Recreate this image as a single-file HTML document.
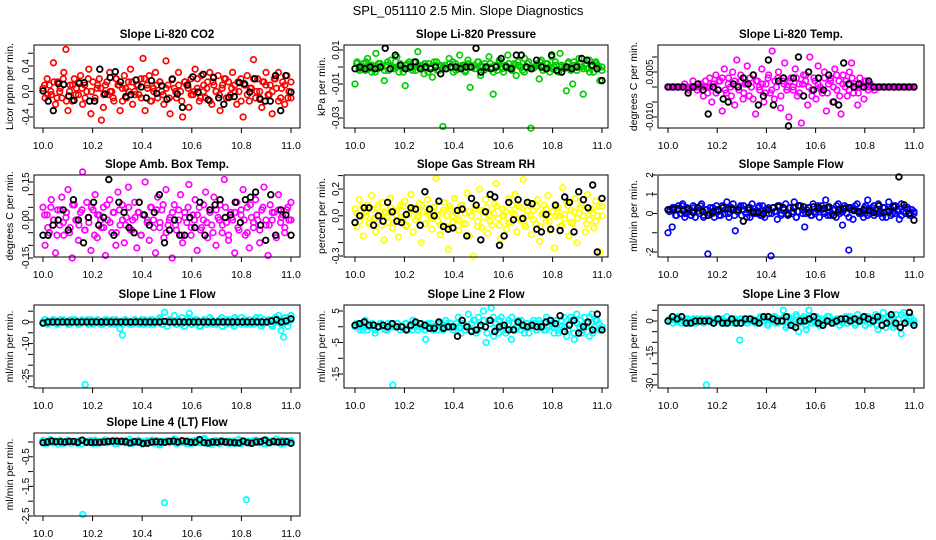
<!DOCTYPE html>
<html><head><meta charset="utf-8"><style>
html,body{margin:0;padding:0;background:#fff;}
svg{display:block;font-family:"Liberation Sans",sans-serif;}
</style></head><body>
<svg id="chart" width="936" height="540" viewBox="0 0 936 540" xmlns="http://www.w3.org/2000/svg">
<text x="468" y="15" text-anchor="middle" font-size="13">SPL_051110  2.5 Min. Slope Diagnostics</text>
</svg>
<script>
const xTicks = [10.0,10.2,10.4,10.6,10.8,11.0];
const xTickLabels = ["10.0","10.2","10.4","10.6","10.8","11.0"];

const co2Red = [0.05,-0.1,0.2,0.1,-0.05,0.45,-0.2,0.15,0.0,-0.1,0.3,0.66,-0.3,0.1,-0.15,0.2,0.05,-0.05,0.25,-0.2,0.1,0.0,0.35,-0.35,0.15,-0.1,0.05,0.2,-0.45,-0.25,0.1,-0.05,0.3,0.0,-0.15,0.2,0.1,-0.3,0.05,0.25,-0.1,0.15,0.35,-0.2,0.0,0.1,-0.05,0.2,0.52,-0.3,0.1,0.25,-0.15,0.05,0.3,-0.1,0.15,0.0,-0.2,0.48,0.1,-0.35,0.2,0.05,-0.1,0.3,0.0,-0.4,0.15,0.1,-0.25,0.2,-0.05,0.35,0.05,-0.15,0.25,0.0,-0.1,0.15,0.3,-0.2,0.1,0.0,0.25,-0.3,0.05,0.2,-0.1,0.15,-0.05,0.3,0.1,-0.2,0.0,0.2,-0.4,0.1,0.25,-0.15,0.05,0.5,-0.1,0.2,0.0,-0.25,0.15,0.3,-0.05,0.1,-0.35,0.2,0.05,0.3,-0.1,0.15,-0.2,0.25,0.0,-0.1];
const co2RedCore = [0.1,-0.05,0.0,0.15,-0.1,0.05,0.2,-0.15,0.0,0.1,-0.05,0.15,0.05,-0.1,0.2,0.0,-0.15,0.1,0.05,-0.05,0.15,0.0,-0.1,0.2,0.1,-0.15,0.05,0.0,0.15,-0.05,0.1,-0.1,0.2,0.05,-0.15,0.0,0.1,0.15,-0.05,0.05,-0.1,0.2,0.0,0.1,-0.15,0.15,0.05,-0.05,0.0,0.2,-0.1,0.1,0.05,-0.15,0.15,0.0,-0.05,0.1,0.2,-0.1,0.05,0.0,0.15,-0.15,0.1,-0.05,0.05,0.2,0.0,-0.1,0.15,0.1,-0.05,0.0,0.2,-0.15,0.05,0.1,-0.1,0.15];
const co2Black = [0.01,-0.15,-0.3,0.12,0.11,-0.07,-0.14,0.13,0.14,-0.15,-0.15,0.35,-0.04,0.22,0.31,0.15,-0.08,-0.05,0.18,0.07,-0.1,0.17,-0.03,0.09,-0.12,0.19,-0.04,-0.25,0.1,0.23,-0.01,0.27,-0.13,0.22,-0.1,-0.2,-0.09,-0.08,0.14,0.12,-0.01,0.2,-0.12,-0.15,-0.15,0.25,-0.3,0.25,-0.01];

const pressureGreen = [-0.010,0.003,-0.001,0,0.002,-0.002,0.005,0.001,-0.003,0,0.008,-0.001,0.002,0,-0.008,0.001,-0.002,0.004,0,-0.001,0.006,-0.003,0.001,0,-0.011,0.002,-0.001,0,0.003,-0.002,0.009,0,0.001,-0.004,-0.001,0.002,0,-0.006,0.001,0.003,-0.002,0,-0.035,0.001,-0.001,0.005,0,-0.003,0.002,-0.001,0.007,0,0.001,-0.002,0.004,-0.012,0,0.001,-0.001,0.003,-0.005,0,0.002,-0.001,0.006,0,-0.016,0.001,-0.002,0.004,0,-0.003,0.001,0.007,-0.001,0,0.002,-0.005,0.001,0,-0.002,0.005,0,0.003,-0.036,-0.001,0,0.002,-0.007,0.004,0,-0.001,0.002,-0.003,0.006,0,0.001,-0.002,0.008,0,-0.001,-0.014,0.003,0,-0.010,0.001,-0.002,0.005,0,-0.016,0.002,-0.001,0.004,0,-0.003,0.002,0.001,-0.008,0];
const pressureGreenCore = [0.002,-0.002,0,0.003,-0.001,0.001,-0.003,0.002,0,-0.002,0.003,0.001,-0.001,0,0.002,-0.003,0.001,0.003,-0.002,0,0.001,-0.001,0.002,-0.003,0,0.003,-0.002,0.001,0,-0.001,0.002,0.003,-0.002,0,0.001,-0.003,0.002,0,-0.001,0.003,0.001,-0.002,0,0.002,-0.003,0.001,0.003,-0.001,0,0.002,-0.002,0.001,0.003,0,-0.003,0.002,-0.001,0,0.001,0.003,-0.002,0.002,0,-0.001,0.003,-0.003,0.001,0,0.002,-0.002,0.003,0.001,0,-0.001,0.002,-0.003,0.001,0.003,0,-0.002];
const pressureBlack = [-0.001,0.0,-0.001,0.0,-0.001,0.0,0.011,-0.001,0.007,0.001,-0.001,0.0,0.003,-0.001,0.0,-0.001,0.0,-0.004,-0.001,0.0,0.0,-0.001,0.0,0.0,0.011,-0.003,0.0,-0.001,0.0,0.005,0.0,-0.001,0.007,0.007,0.0,-0.001,0.004,0.0,-0.001,0.007,-0.002,-0.003,0.0,-0.001,0.0,0.005,0.004,0.001,-0.001,-0.008];

const tempMagenta = [0,0,0,0,0,0,0,0,0.001,0,-0.001,0,0.002,0,-0.001,0,0.001,-0.003,0.002,-0.002,0.003,-0.005,0.001,0.004,-0.001,0.002,-0.008,0.006,-0.002,0.003,0,0.005,-0.006,0.009,-0.001,0.002,-0.004,0.001,0.007,-0.003,0,0.004,-0.009,0.002,-0.001,0.006,-0.005,0.001,0.003,-0.002,0.012,-0.004,0,0.005,-0.007,0.002,0.008,-0.001,-0.010,0.003,0,0.006,-0.003,0.001,-0.012,0.004,0.002,-0.006,0.010,-0.001,0.003,-0.004,0.007,0,-0.002,0.005,-0.008,0.001,0.003,-0.005,0.006,-0.001,0.002,-0.009,0.004,0,-0.003,0.005,0.008,-0.002,0.001,-0.006,0.003,0,-0.004,0.002,-0.001,0.001,0,-0.001,0,0,0,0,0,0,0,0,0,0,0,0,0,0,0,0,0,0,0];
const tempMagentaCore = [0,0,0,0,0,0,0,0,0,0,0,0,0,0,0.001,-0.002,0.002,0.003,-0.001,0.001,-0.003,0.002,0,0.004,-0.002,0.001,0.003,-0.004,0.002,0,0.001,-0.002,0.004,-0.001,0.002,0.003,-0.003,0.001,0,0.002,-0.001,0.003,-0.002,0.001,0.004,0,-0.003,0.002,0.001,-0.001,0.003,-0.002,0.002,0,0.004,-0.003,0.001,0.002,-0.001,0.003,0,-0.002,0.001,0.002,0,0,0,0,0,0,0,0,0,0,0,0,0,0,0,0];
const tempBlack = [0,0,0,0,-0.002,0,0.001,-0.001,-0.009,0,-0.001,-0.004,-0.005,0.001,0,0.003,0.001,0.004,-0.006,-0.003,0.009,-0.006,0.002,0.003,-0.013,0.003,0.010,-0.003,0.005,-0.001,0.003,-0.001,0.004,-0.005,-0.006,0.008,0.001,0,0.001,0,0.002,0,0,0,0,0,0,0,0,0];

const ambMagenta = [0.05,-0.10,0.02,-0.05,0.08,0,-0.13,0.04,-0.02,0.09,-0.06,0.01,0.12,-0.03,-0.15,0.06,0,-0.08,0.03,0.19,-0.04,0.07,-0.01,-0.12,0.04,0.10,-0.07,0.02,-0.03,0.05,-0.14,0,0.08,-0.05,0.03,-0.10,0.11,-0.02,0.06,-0.09,0.01,0.13,-0.04,0,0.07,-0.11,0.03,-0.06,0.02,0.15,-0.01,-0.08,0.05,0,-0.13,0.09,-0.03,0.04,-0.07,0.12,-0.02,0.01,-0.15,0.06,-0.04,0,0.10,-0.09,0.03,-0.01,0.14,-0.06,0.02,0.08,-0.12,0.05,-0.03,0,0.11,-0.07,0.04,-0.02,0.09,-0.10,0.01,0.06,-0.05,0.16,-0.01,-0.08,0.03,0,-0.13,0.07,-0.04,0.02,0.12,-0.06,0.05,-0.11,0.01,-0.03,0.08,0,-0.09,0.04,0.13,-0.02,-0.14,0.06,0,0.03,-0.07,0.10,-0.01,0.02,-0.05,0.04,0,0.07];
const ambMagentaCore = [0.02,-0.03,0.05,0,-0.06,0.04,-0.01,0.03,-0.05,0.06,0,-0.02,0.04,-0.04,0.01,0.05,-0.06,0.02,0,-0.03,0.06,-0.01,0.03,-0.05,0.04,0,-0.02,0.05,-0.04,0.01,0.03,-0.06,0.02,0,0.05,-0.03,0.04,-0.01,0.06,-0.05,0,0.03,-0.02,0.04,-0.06,0.01,0.05,-0.03,0,0.02,-0.04,0.06,-0.01,0.03,-0.05,0.04,0,-0.02,0.05,-0.06,0.01,0.03,-0.03,0.04,0,-0.05,0.06,-0.01,0.02,-0.04,0.05,0,-0.02,0.03,-0.06,0.04,0.01,-0.03,0.05,0];
const ambBlack = [-0.06,-0.06,-0.02,0.0,0.04,-0.04,0.08,0.0,-0.09,0.01,0.07,-0.02,0.01,0.16,-0.06,0.07,0.03,-0.03,-0.05,0.07,0.02,-0.02,0.03,0.10,-0.09,-0.04,0.0,-0.06,-0.06,0.01,-0.03,0.07,-0.06,0.04,0.06,0.08,0.01,0.02,0.07,-0.01,0.08,0.09,0.11,-0.02,-0.08,0.10,-0.06,0.04,0.02,-0.06];

const rhYellow = [0.05,-0.08,0.12,0,-0.15,0.03,0.08,-0.05,0.15,-0.02,-0.12,0.06,0,0.10,-0.18,0.02,-0.05,0.13,-0.09,0.04,0,-0.16,0.08,-0.03,0.11,-0.07,0.01,0.16,-0.12,0.05,-0.01,0.09,-0.20,0.03,-0.06,0.12,0,-0.10,0.07,0.28,-0.04,-0.14,0.02,0.10,-0.08,-0.25,0.05,0,0.13,-0.03,-0.11,0.08,-0.06,0.02,0.17,-0.15,0,-0.30,0.06,-0.04,0.20,-0.09,0.03,0.12,-0.13,0.01,-0.07,0.09,0.24,-0.02,-0.17,0.05,0,-0.10,0.13,-0.05,0.02,0.16,-0.12,0.07,-0.03,0.27,-0.08,0,0.10,-0.14,0.04,-0.06,0.12,-0.19,0.01,0.08,-0.04,0.15,-0.11,0.03,-0.24,0.06,0,-0.08,0.21,-0.02,0.10,-0.15,0.04,-0.06,0.13,-0.20,0.02,0.08,0,-0.12,0.16,-0.03,0.05,-0.09,0.11,0,-0.27,0.07];
const rhYellowCore = [0.02,-0.04,0.07,0,-0.06,0.05,-0.02,0.08,-0.07,0.03,0,0.06,-0.05,0.04,-0.01,0.07,-0.08,0.02,0.05,-0.03,0,0.08,-0.06,0.03,-0.02,0.06,0.01,-0.07,0.04,0,0.07,-0.05,0.02,-0.03,0.08,-0.06,0.03,0,0.05,-0.08,0.04,-0.01,0.06,-0.04,0.02,0.07,-0.07,0,0.03,-0.05,0.08,0.01,-0.02,0.06,-0.06,0.04,0,-0.03,0.07,-0.08,0.02,0.05,-0.04,0.03,0,0.06,-0.07,0.01,0.08,-0.05,0.03,-0.02,0.06,0,-0.06,0.04,0.02,-0.04,0.07,0];
const rhBlack = [-0.05,0.0,0.06,0.06,-0.07,0.0,-0.04,0.10,0.03,-0.04,-0.05,0.01,0.06,0.05,-0.07,0.18,0.05,0.0,0.11,-0.08,-0.10,-0.09,0.04,0.05,-0.15,0.13,0.08,-0.18,0.03,0.16,0.14,-0.22,-0.15,0.10,-0.03,0.12,-0.02,0.10,0.09,-0.10,-0.12,0.01,-0.10,0.08,-0.11,0.14,0.10,-0.12,0.18,0.12,0.06,0.23,-0.27,0.13];

const sampleBlue = [-1.0,0.2,-0.7,0.3,-0.1,0.4,0,0.5,-0.2,0.3,0.1,-0.1,0.4,-0.2,0.3,0,0.5,-0.1,0.2,-2.1,0.3,0,-0.2,0.4,0.1,-0.1,0.3,0,0.6,-0.2,0.2,0.5,-0.9,0.1,0.3,-0.1,0.4,0,0.2,-0.2,0.5,0.1,0,0.3,-0.1,0.4,-0.2,0.2,0,-2.2,0.3,0.1,-0.3,0.4,0,0.2,0.5,-0.1,0.3,0,0.6,-0.2,0.1,0.4,0,-0.7,0.2,0.3,-0.1,0.5,0,0.2,-0.2,0.4,0.1,0.7,-0.1,0.3,0,0.2,-0.2,0.5,0.1,-0.6,0.4,0,-1.9,0.3,-0.3,0.2,0.5,0,0.1,-0.2,0.4,0.7,0,0.3,-0.1,0.2,0.5,0,-0.2,0.3,0.1,0.6,-0.1,0.4,0,0.2,-0.3,0.5,0.1,0,0.3,-0.1,0.2,0];
const sampleBlueCore = [0.1,0.3,-0.1,0.2,0.4,0,0.2,-0.1,0.3,0.1,0.4,-0.2,0.2,0,0.3,0.1,-0.1,0.4,0.2,0,0.3,-0.1,0.1,0.4,0.2,-0.2,0.3,0,0.1,0.4,-0.1,0.2,0.3,0,0.1,0.4,-0.1,0.2,0,0.3,0.1,-0.2,0.4,0.2,0,0.3,-0.1,0.1,0.4,0.2,0,0.3,-0.1,0.2,0.4,0,0.1,0.3,-0.2,0.2,0.4,0.1,0,0.3,-0.1,0.2,0.4,0,0.1,0.3,-0.2,0.2,0,0.4,0.1,-0.1,0.3,0.2,0,0.1];
const sampleBlack = [0.2,0.2,0.25,0.15,0.25,0.05,0.3,0.1,-0.1,0.1,0.2,0.3,0.25,0.2,0.2,-0.4,0.3,0.05,0.05,0.0,0.2,0.3,0.35,0.3,-0.05,0.3,0.4,0.35,0.05,0.35,0.3,0.25,0.35,-0.1,0.2,0.25,0.3,0.15,0.1,0.2,0.15,0.05,0.4,0.05,0.1,0.35,1.9,0.45,0.0,-0.35];

const line1Cyan = [0,1,-1,0,1,0,-1,1,0,0,-1,1,0,1,-1,0,0,-29,1,0,-1,0,1,0,-1,1,0,0,1,-1,0,-3,-6,1,0,-1,0,1,0,-1,0,1,0,-1,1,0,0,2,-1,4.5,-2,1,0,3,-1,0,2,-2,1,4,-1,0,1,-2,0,1,-1,0,1,0,-1,0,2,0,-1,1,0,-2,1,0,2,0,-1,1,0,-1,2,0,-2,1,0,1,-1,0,2,3,-4,-7,2,0,3];
const line1CyanCore = [1,-1,0,1,-1,0,1,0,-1,1,0,-1,1,0,-1,1,0,1,-1,0,1,-1,0,1,0,-1,1,0,-1,1,0,1,-1,0,1,-1,0,1,-1,0,1,0,-1,1,-1,0,2,-1,1,0,-2,1,0,2,-1,0,1,-2,1,0,-1,2,0,-1,1,0,-1,1,0,2,-1,0,1,-2,2,0,-1,2,-2,1];
const line1Black = [-0.5,0,0,0,0,0,0,0,0,0,0,0,0,0,0,0,0,0,0,0,0,0,0,0,0,0.3,0,0,0,0,0,0,0,0,0,0,0,0,0,0,0,0,0,0,0,0,0,0.5,1,0,0.5,1.5];

const line2Cyan = [0,1,-1,0,2,-1,0,1,-2,0,1,0,-1,1,0,-18.5,0,1,-1,0,1,-1,0,2,0,-1,1,0,-4,1,0,-1,0,1,0,-1,2,0,1,-1,0,3,-2,1,0,4,-1,2,-2,3,0,5,-5,2,6,-3,1,-2,3,0,-1,2,-4,1,0,2,-1,0,1,-2,0,1,-1,2,0,-1,3,0,1,-2,2,-1,0,3,-3,1,2,-4,4,0,-2,3,1,-3,4,0,2,-1,0];
const line2CyanCore = [1,0,-1,1,0,1,-1,0,1,0,-1,1,0,1,-1,0,1,0,-1,1,0,1,-1,0,1,0,-1,1,0,1,0,-1,1,0,1,-1,0,1,2,-1,0,2,-2,1,3,-1,2,0,-2,1,3,-1,0,2,-2,1,0,2,-1,1,0,-1,2,0,1,-2,2,0,-1,3,-2,1,2,-1,0,3,-2,2,1,-1];
const line2Black = [0.5,1,1.5,0.5,0.5,0,0.5,0,1,0,0,-1,0.5,1.5,1,0.5,-0.5,-0.5,1.5,-0.5,0,0,-3,2,0,-1.5,-1,0.5,0,2,-1.5,0,0.5,-1,-1,1.5,0.5,0,0.5,0,0,1.5,2,1,3.5,-1.5,0.5,2,-2,0,1.5,-1,4,-1];

const line3Cyan = [0,1,-1,0,2,-1,0,1,-1,0,1,-1,0,1,0,-30,1,0,-1,0,1,-1,0,2,0,-1,1,0,-9,1,0,-1,0,1,-1,0,2,0,1,-2,0,2,-1,1,0,5,-3,2,0,-2,3,-5,1,2,-4,5,-1,0,2,-2,1,-1,0,2,-1,0,1,-2,0,1,-1,2,0,-1,3,0,1,-2,2,-1,0,3,-4,1,4,-3,2,0,-3,3,1,-6,4,0,2,-1,0];
const line3CyanCore = [1,-1,0,1,-1,0,1,0,-1,1,0,-1,1,0,-1,1,0,1,-1,0,1,-1,0,1,0,-1,1,0,-1,1,0,1,-1,0,2,-1,0,2,-2,1,0,2,-1,1,-2,0,2,-1,1,0,-1,2,0,-1,1,0,-1,2,0,1,-2,1,0,2,-1,1,0,-2,2,1,-1,0,2,-2,1,3,-1,0,2,-1];
const line3Black = [0,2,1,2,-1,-1,0,0,0,0,-1,1,-1,-1,1,-1,-1,1,1,0,-1,2,2,1,0,0,2,-2,-3,0,0,1,2,-1,-2,0,-1,0,1,1,0,1,0,2,1,0,2,-2,-1,3,-1,-3,-1,4,-2];

const line4Cyan = [0.05,-0.05,0,0.08,-0.03,0.02,-0.07,0.04,0,-0.02,0.06,-0.04,0.01,0,-0.05,0.03,-2.45,0.02,-0.01,0.05,-0.06,0,0.03,-0.03,0.01,0.07,-0.02,0,0.04,-0.06,0.02,-0.01,0.05,-0.03,0,0.08,-0.05,0.02,-0.01,0.04,-0.07,0,0.03,-0.02,0.06,-0.04,0.01,-0.10,0.02,-2.05,0.05,-0.02,0,0.10,-0.05,0.03,-0.01,0.04,-0.06,0,0.02,-0.03,0.07,-0.01,0,0.12,-0.05,0.02,-0.08,0.04,0,-0.03,0.06,-0.01,0.02,-0.05,0,0.04,-0.02,0.08,-0.06,0.01,-1.95,0.03,-0.04,0,0.06,-0.02,0.01,-0.05,0.07,0,-0.03,0.02,0.10,-0.01,-0.07,0.04,0,-0.02,0.05];
const line4CyanCore = [0.03,-0.04,0.05,-0.02,0.01,0.06,-0.05,0,0.04,-0.03,0.02,0.05,-0.06,0.01,0.03,-0.02,0.06,-0.04,0,0.05,-0.03,0.02,0.04,-0.06,0.01,0,0.05,-0.04,0.03,-0.02,0.06,-0.05,0.01,0.04,0,-0.03,0.05,-0.06,0.02,0.03,-0.01,0.06,-0.04,0,0.05,-0.02,0.03,-0.05,0.04,0.01,-0.03,0.06,0,-0.04,0.02,0.05,-0.06,0.03,-0.01,0.04,0,-0.05,0.06,-0.02,0.01,0.03,-0.04,0.05,0,-0.03,0.06,-0.06,0.02,0.04,-0.02,0.01,0.05,-0.04,0.03,0];
const line4Black = [-0.02,0,0.03,0.01,0.01,0,0.02,0.02,-0.01,0.06,-0.01,-0.01,-0.01,-0.01,0,0.02,0.03,0.03,0.02,0.01,-0.03,0.01,0,-0.05,-0.04,0,0.01,0,-0.01,0.02,0.03,0,0.04,0.02,-0.01,-0.01,0.08,-0.02,-0.03,0,-0.01,0.02,0,-0.01,-0.02,-0.03,0.03,-0.02,-0.04,0,0.01,0.06,-0.02,0.02,0,0,0.01,-0.04];

const co2Ticks=[-0.4,-0.2,0,0.2,0.4,0.6], co2Labels=[[-0.4,"-0.4"],[0,"0.0"],[0.4,"0.4"]];
const presTicks=[-0.03,-0.02,-0.01,0,0.01], presLabels=[[-0.03,"-0.03"],[-0.01,"-0.01"],[0.01,"0.01"]];
const tempTicks=[-0.01,-0.005,0,0.005,0.01], tempLabels=[[-0.01,"-0.010"],[0.005,"0.005"]];
const ambTicks=[-0.15,-0.1,-0.05,0,0.05,0.1,0.15], ambLabels=[[-0.15,"-0.15"],[0,"0.00"],[0.15,"0.15"]];
const rhTicks=[-0.3,-0.2,-0.1,0,0.1,0.2,0.3], rhLabels=[[-0.3,"-0.3"],[0,"0.0"],[0.2,"0.2"]];
const sampTicks=[-2,-1,0,1,2], sampLabels=[[-2,"-2"],[0,"0"],[1,"1"],[2,"2"]];
const l1Ticks=[5,0,-5,-10,-15,-20,-25,-30], l1Labels=[[0,"0"],[-10,"-10"],[-25,"-25"]];
const l2Ticks=[5,0,-5,-10,-15], l2Labels=[[5,"5"],[-5,"-5"],[-15,"-15"]];
const l3Ticks=[5,0,-5,-10,-15,-20,-25,-30], l3Labels=[[0,"0"],[-15,"-15"],[-30,"-30"]];
const l4Ticks=[0,-0.5,-1,-1.5,-2,-2.5], l4Labels=[[-0.5,"-0.5"],[-1.5,"-1.5"],[-2.5,"-2.5"]];

const NS="http://www.w3.org/2000/svg";
const svg=document.getElementById('chart');
const cols=[{bx0:34,bx1:300,x10:43,x11:291,yt:13},{bx0:344,bx1:608,x10:355,x11:602,yt:325},{bx0:658,bx1:924,x10:668,x11:914,yt:637}];
const rows=[{top:45,bot:128},{top:175,bot:257},{top:305,bot:388},{top:433,bot:516}];
function mk(tag,attrs,parent){const e=document.createElementNS(NS,tag);for(const k in attrs)e.setAttribute(k,attrs[k]);parent.appendChild(e);return e;}

function panel(name,title,ytitle,c,r,ref,ticks,labels,colored,coloredCore,color,black){
  const C=cols[c],R=rows[r];
  const g=mk('g',{},svg);
  
  
  const xs=v=>C.x10+(v-10)*(C.x11-C.x10);
  const ys=v=>ref[1]+(v-ref[0])*(ref[3]-ref[1])/(ref[2]-ref[0]);
  const t=mk('text',{x:(C.bx0+C.bx1)/2,y:R.top-7,'text-anchor':'middle','font-size':'11.5','font-weight':'bold'},g);
  t.textContent=title;
  
  
  const pts=mk('g',{fill:'none'},g);
  
  
  const draw=(arr,col,sw,off)=>{const n=arr.length;arr.forEach((v,i)=>{
    const cx=xs(10+(i+off)/(n-1+off)),cy=ys(v);
    const p=mk('circle',{cx:cx.toFixed(1),cy:cy.toFixed(1),r:2.8,stroke:col,'stroke-width':sw},pts);
    
    
  });};
  draw(colored,color,1.7,0);
  draw(coloredCore,color,1.7,0.5);
  draw(black,'#000',1.8,0);
  const box=mk('rect',{x:C.bx0,y:R.top,width:C.bx1-C.bx0,height:R.bot-R.top,fill:'none',stroke:'#000','stroke-width':1},g);
  
  
  const xa=mk('g',{},g);
  
  
  xTicks.forEach((v,i)=>{const x=xs(v);
    mk('line',{x1:x,x2:x,y1:R.bot,y2:R.bot+5,stroke:'#000'},xa);
    const l=mk('text',{x:x,y:R.bot+21,'text-anchor':'middle','font-size':'10.5'},xa);
    l.textContent=xTickLabels[i];
    
    
  });
  const ya=mk('g',{},g);
  
  
  const ax=C.bx0-1;
  const tv=ticks.map(ys).filter(y=>y>=R.top-1&&y<=R.bot+1);
  tv.forEach(y=>mk('line',{x1:ax-5,x2:ax,y1:y,y2:y,stroke:'#000'},ya));
  labels.forEach(([v,s])=>{const y=ys(v);const lx=ax-4;
    const l=mk('text',{x:lx,y:y,'text-anchor':'middle','font-size':'10',transform:`rotate(-90 ${lx} ${y})`},ya);
    l.textContent=s;
    
    
  });
  const ym=(R.top+R.bot)/2;
  const yt=mk('text',{x:C.yt,y:ym,'text-anchor':'middle','font-size':'10.5',transform:`rotate(-90 ${C.yt} ${ym})`},g);
  yt.textContent=ytitle;
  
  
}
panel('panel-co2','Slope Li-820 CO2','Licor ppm per min.',0,0,[0.4,66,-0.4,117],co2Ticks,co2Labels,co2Red,co2RedCore,'#ff0000',co2Black);
panel('panel-pressure','Slope Li-820 Pressure','kPa per min.',1,0,[0.01,50,-0.03,118],presTicks,presLabels,pressureGreen,pressureGreenCore,'#00cd00',pressureBlack);
panel('panel-temp','Slope Li-820 Temp.','degrees C per min.',2,0,[0.005,72,-0.01,117],tempTicks,tempLabels,tempMagenta,tempMagentaCore,'#ff00ff',tempBlack);
panel('panel-amb-temp','Slope Amb. Box Temp.','degrees C per min.',0,1,[0.15,182,-0.15,258],ambTicks,ambLabels,ambMagenta,ambMagentaCore,'#ff00ff',ambBlack);
panel('panel-rh','Slope Gas Stream RH','percent per min.',1,1,[0.2,189,-0.3,256],rhTicks,rhLabels,rhYellow,rhYellowCore,'#ffff00',rhBlack);
panel('panel-sample-flow','Slope Sample Flow','ml/min per min.',2,1,[2,175,-2,252],sampTicks,sampLabels,sampleBlue,sampleBlueCore,'#0000ff',sampleBlack);
panel('panel-line1','Slope Line 1 Flow','ml/min per min.',0,2,[0,322,-25,376],l1Ticks,l1Labels,line1Cyan,line1CyanCore,'#00ffff',line1Black);
panel('panel-line2','Slope Line 2 Flow','ml/min per min.',1,2,[5,311,-15,374],l2Ticks,l2Labels,line2Cyan,line2CyanCore,'#00ffff',line2Black);
panel('panel-line3','Slope Line 3 Flow','ml/min per min.',2,2,[0,321,-30,385],l3Ticks,l3Labels,line3Cyan,line3CyanCore,'#00ffff',line3Black);
panel('panel-line4','Slope Line 4 (LT) Flow','ml/min per min.',0,3,[0,442,-2.5,516],l4Ticks,l4Labels,line4Cyan,line4CyanCore,'#00ffff',line4Black);
</script>
</body></html>
